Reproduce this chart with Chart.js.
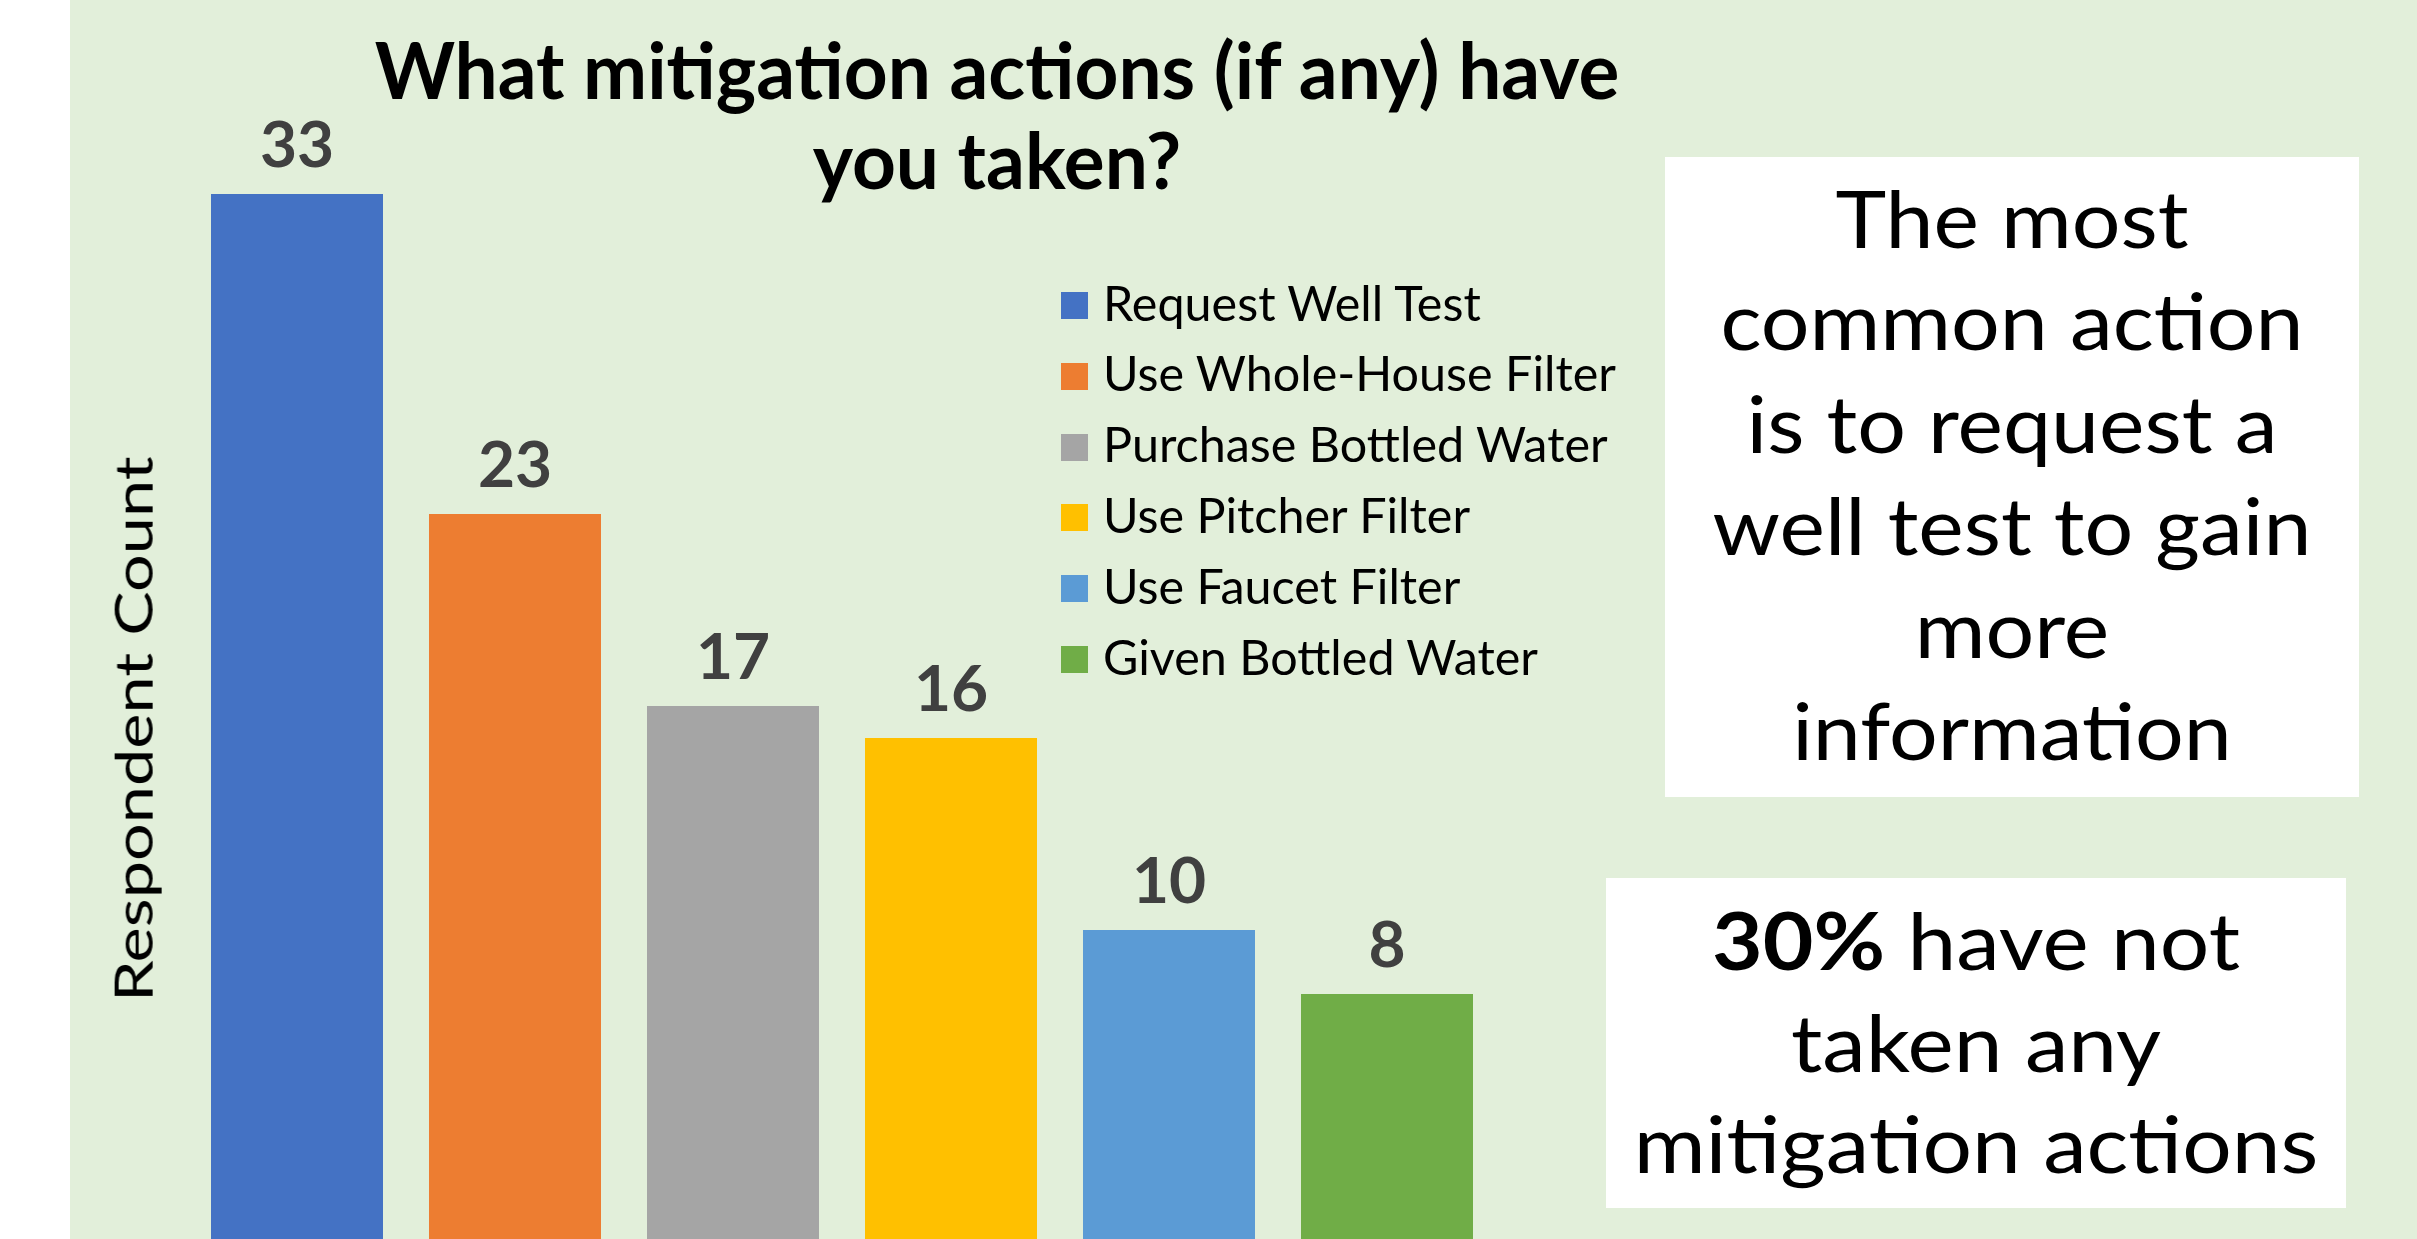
<!DOCTYPE html>
<html>
<head>
<meta charset="utf-8">
<title>Mitigation actions</title>
<script src="https://cdn.jsdelivr.net/npm/chart.js@4.4.0/dist/chart.umd.min.js"></script>
<style>
  html, body { margin: 0; padding: 0; width: 2417px; height: 1239px; overflow: hidden; background: #ffffff; }
  body { position: relative; font-family: Lato, "Open Sans", sans-serif; color: #000; }
  #panel { position: absolute; left: 70px; top: 0; width: 2347px; height: 1239px; background: #E2EFDA; }
  #chartBox { position: absolute; left: 0; top: 0; width: 2417px; height: 1262px; }
  .txt { position: absolute; white-space: nowrap; line-height: 1.2; }
  .center { transform-origin: 50% 50%; }
  .box { position: absolute; background: #ffffff; }
  .swatch { position: absolute; width: 27px; height: 27px; }
</style>
</head>
<body>
<div id="panel"></div>
<div id="chartBox"><canvas id="mitigationChart"></canvas></div>
<div class="box" style="left:1665px; top:157px; width:694px; height:640px;"></div>
<div class="box" style="left:1606px; top:878px; width:740px; height:330px;"></div>
<div id="overlay"></div>

<script>
const categories = ['Request Well Test', 'Use Whole-House Filter', 'Purchase Bottled Water', 'Use Pitcher Filter', 'Use Faucet Filter', 'Given Bottled Water'];
const counts = [33, 23, 17, 16, 10, 8];
const barColors = ['#4472C4', '#ED7D31', '#A5A5A5', '#FFC000', '#5B9BD5', '#70AD47'];

const titleLines = ['What mitigation actions (if any) have', 'you taken?'];
const yTitle = 'Respondent Count';
const note1Lines = ['The most', 'common action', 'is to request a', 'well test to gain', 'more', 'information'];
const note2Lines = ['<b>30%</b> have not', 'taken any', 'mitigation actions'];

const overlay = document.getElementById('overlay');

// put one line of text with its baseline at y, centred on cx
function addLine(html, cx, baseline, size, weight) {
    const el = document.createElement('div');
    el.className = 'txt center';
    el.innerHTML = html;
    el.style.fontSize = size + 'px';
    el.style.fontWeight = weight;
    el.style.left = cx + 'px';
    el.style.top = (baseline - 0.987 * size) + 'px';
    overlay.appendChild(el);
    return el;
}

// squeeze a block of lines so the widest one gets the target width
function fitBlock(els, target) {
    const widest = Math.max(...els.map(e => e.offsetWidth));
    const s = target / widest;
    els.forEach(e => { e.style.transform = 'translateX(-50%) scaleX(' + s + ')'; });
}

function buildText() {
    // title
    const t = titleLines.map((line, i) => addLine(line, 997, 100 + i * 90, 78, 700));
    fitBlock(t, 1245);

    // right hand notes
    const n1 = note1Lines.map((line, i) => addLine(line, 2012, 248 + i * 102.4, 80, 400));
    fitBlock(n1, 599);
    const n2 = note2Lines.map((line, i) => addLine(line, 1976, 970 + i * 101.5, 80, 400));
    fitBlock(n2, 685);

    // legend
    const legendTexts = [];
    categories.forEach((name, i) => {
        const top = 292 + i * 70.8;
        const sw = document.createElement('div');
        sw.className = 'swatch';
        sw.style.left = '1061px';
        sw.style.top = top + 'px';
        sw.style.background = barColors[i];
        overlay.appendChild(sw);

        const el = document.createElement('div');
        el.className = 'txt';
        el.textContent = name;
        el.style.fontSize = '48px';
        el.style.left = '1103px';
        el.style.top = (top + 13.5 + 15.5 - 0.987 * 48) + 'px';
        el.style.transformOrigin = '0 0';
        overlay.appendChild(el);
        legendTexts.push(el);
    });
    const lw = Math.max(...legendTexts.map(e => e.offsetWidth));
    legendTexts.forEach(e => { e.style.transform = 'scaleX(' + (513 / lw) + ')'; });

    // y axis title
    const yt = document.createElement('div');
    yt.className = 'txt';
    yt.textContent = yTitle;
    yt.style.fontSize = '52px';
    overlay.appendChild(yt);
    const w = yt.offsetWidth, h = yt.offsetHeight;
    yt.style.left = (133 - w / 2) + 'px';
    yt.style.top = (729 - h / 2) + 'px';
    yt.style.transformOrigin = '50% 50%';
    yt.style.transform = 'rotate(-90deg) scaleX(' + (546 / w) + ')';
}

// numbers above each bar
const valueLabels = {
    id: 'valueLabels',
    afterDatasetsDraw(chart) {
        const ctx = chart.ctx;
        const meta = chart.getDatasetMeta(0);
        ctx.save();
        ctx.font = 'bold 64px Lato, "Open Sans", sans-serif';
        ctx.fillStyle = '#404040';
        ctx.textAlign = 'center';
        ctx.textBaseline = 'alphabetic';
        meta.data.forEach((bar, i) => {
            ctx.fillText(String(counts[i]), bar.x, bar.y - 27);
        });
        ctx.restore();
    }
};

function drawChart() {
    const ctx = document.getElementById('mitigationChart').getContext('2d');
    window.mitigationChart = new Chart(ctx, {
        type: 'bar',
        data: {
            labels: categories,
            datasets: [{
                label: 'Respondent Count',
                data: counts,
                backgroundColor: barColors,
                borderWidth: 0,
                categoryPercentage: 1,
                barPercentage: 0.789
            }]
        },
        options: {
            responsive: true,
            maintainAspectRatio: false,
            animation: false,
            layout: { padding: { left: 188, right: 921, top: 130, bottom: 12 } },
            plugins: {
                legend: { display: false },
                tooltip: { enabled: false }
            },
            scales: {
                x: { display: false },
                y: { display: false, min: 0, max: 35 }
            }
        },
        plugins: [valueLabels]
    });
}

document.fonts.load('bold 64px Lato').then(() => document.fonts.ready).then(() => {
    drawChart();
    buildText();
});
</script>
</body>
</html>
